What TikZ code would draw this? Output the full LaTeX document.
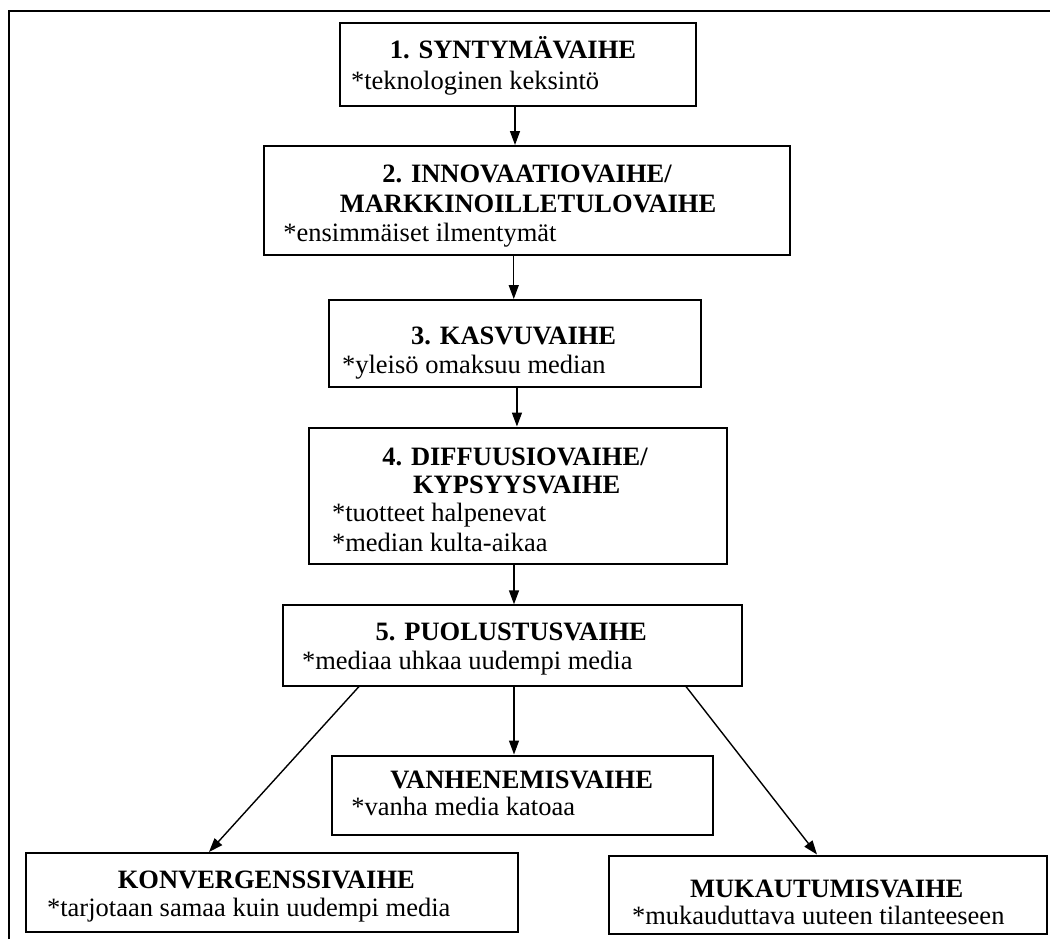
\documentclass[tikz,border=0pt]{standalone}
\usepackage{fontspec}
\setmainfont{Liberation Serif}
\usetikzlibrary{arrows.meta}
\tikzset{
  stagebox/.style={draw=black, line width=1pt, rectangle, inner sep=0pt},
  ttl/.style={anchor=base, inner sep=0pt, font=\fontsize{13.25pt}{14.5pt}\selectfont\bfseries},
  txt/.style={anchor=base west, inner sep=0pt, font=\fontsize{13.25pt}{14.5pt}\selectfont},
  arr/.style={draw=black, line width=0.7pt, -{Triangle[length=7pt,width=5pt]}},
}
\begin{document}
\begin{tikzpicture}[x=0.5pt, y=-0.5pt]
\useasboundingbox (0,0) rectangle (1050,939);
\fill[white] (0,0) rectangle (1050,939);
% outer frame
\draw[line width=1pt] (9,939) -- (9,11) -- (1050,11);

% boxes
\node[stagebox, minimum width=178pt, minimum height=41.25pt] (b1) at (518,64.25) {};
\node[stagebox, minimum width=263.25pt, minimum height=54.5pt] (b2) at (526.75,200.5) {};
\node[stagebox, minimum width=185.75pt, minimum height=43.25pt] (b3) at (514.75,343.25) {};
\node[stagebox, minimum width=209pt, minimum height=68.25pt] (b4) at (517.5,495.75) {};
\node[stagebox, minimum width=229.5pt, minimum height=40.1pt] (b5) at (512,645.4) {};
\node[stagebox, minimum width=190.9pt, minimum height=39.75pt] (bV) at (522.4,795.25) {};
\node[stagebox, minimum width=246pt, minimum height=39.5pt] (bK) at (272,892.5) {};
\node[stagebox, minimum width=219pt, minimum height=39.25pt] (bM) at (827.5,894.75) {};

% texts
\node[ttl] (t1) at (513,58.5) {1. SYNTYMÄVAIHE};
\node[txt] (s1) at (350.7,89) {*teknologinen keksintö};

\node[ttl] (t2a) at (527,182) {2. INNOVAATIOVAIHE/};
\node[ttl] (t2b) at (528,212) {MARKKINOILLETULOVAIHE};
\node[txt] (s2) at (283,241.7) {*ensimmäiset ilmentymät};

\node[ttl] (t3) at (513.7,344) {3. KASVUVAIHE};
\node[txt] (s3) at (341.7,373.3) {*yleisö omaksuu median};

\node[ttl] (t4a) at (515,465) {4. DIFFUUSIOVAIHE/};
\node[ttl] (t4b) at (516.7,493.3) {KYPSYYSVAIHE};
\node[txt] (s4a) at (331.7,521.7) {*tuotteet halpenevat};
\node[txt] (s4b) at (331.7,551) {*median kulta-aikaa};

\node[ttl] (t5) at (511.3,640.7) {5. PUOLUSTUSVAIHE};
\node[txt] (s5) at (301.7,669.7) {*mediaa uhkaa uudempi media};

\node[ttl] (tV) at (521.7,788.3) {VANHENEMISVAIHE};
\node[txt] (sV) at (351,815) {*vanha media katoaa};

\node[ttl] (tK) at (266.3,888.3) {KONVERGENSSIVAIHE};
\node[txt] (sK) at (46.7,916.7) {*tarjotaan samaa kuin uudempi media};

\node[ttl] (tM) at (826.7,897.3) {MUKAUTUMISVAIHE};
\node[txt] (sM) at (631.7,924) {*mukauduttava uuteen tilanteeseen};

% connectors
\draw[arr] ([xshift=-1.5pt]b1.south) -- ([xshift=-1.5pt]b1.south |- b2.north);
\draw[arr] ([xshift=-6.5pt]b2.south) -- ([xshift=-6.5pt]b2.south |- b3.north);
\draw[arr] ([xshift=1.1pt]b3.south) -- ([xshift=1.1pt]b3.south |- b4.north);
\draw[arr] ([xshift=-1.75pt]b4.south) -- ([xshift=-1.75pt]b4.south |- b5.north);
\draw[arr] ([xshift=1pt]b5.south) -- ([xshift=1pt]b5.south |- bV.north);
\draw[arr] ([xshift=38.75pt]b5.south west) -- ([xshift=92pt]bK.north west);
\draw[arr] ([xshift=202.25pt]b5.south west) -- ([xshift=104.75pt]bM.north west);
\end{tikzpicture}
\end{document}
